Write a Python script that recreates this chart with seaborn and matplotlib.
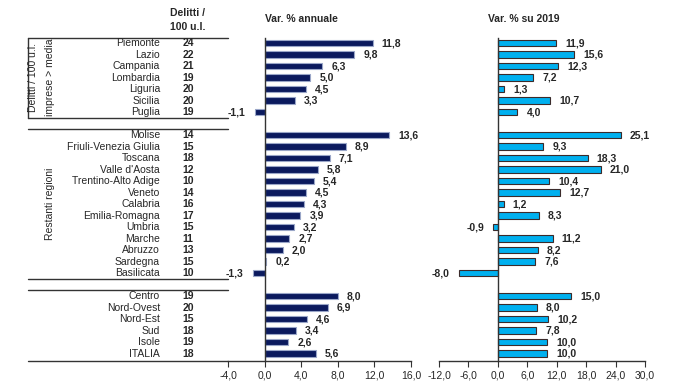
import numpy as np
import pandas as pd
import matplotlib
matplotlib.use("Agg")
import matplotlib.pyplot as plt
import matplotlib.transforms as mtransforms
from matplotlib import font_manager
import seaborn as sns

regions = ["Piemonte", "Lazio", "Campania", "Lombardia", "Liguria", "Sicilia", "Puglia",
           "Molise", "Friuli-Venezia Giulia", "Toscana", "Valle d'Aosta", "Trentino-Alto Adige",
           "Veneto", "Calabria", "Emilia-Romagna", "Umbria", "Marche", "Abruzzo", "Sardegna",
           "Basilicata",
           "Centro", "Nord-Ovest", "Nord-Est", "Sud", "Isole", "ITALIA"]
group = [0] * 7 + [1] * 13 + [2] * 6
delitti = [24, 22, 21, 19, 20, 20, 19,
           14, 15, 18, 12, 10, 14, 16, 17, 15, 11, 13, 15, 10,
           19, 20, 15, 18, 19, 18]
var_annuale = [11.8, 9.8, 6.3, 5.0, 4.5, 3.3, -1.1,
               13.6, 8.9, 7.1, 5.8, 5.4, 4.5, 4.3, 3.9, 3.2, 2.7, 2.0, 0.2, -1.3,
               8.0, 6.9, 4.6, 3.4, 2.6, 5.6]
var_2019 = [11.9, 15.6, 12.3, 7.2, 1.3, 10.7, 4.0,
            25.1, 9.3, 18.3, 21.0, 10.4, 12.7, 1.2, 8.3, -0.9, 11.2, 8.2, 7.6, -8.0,
            15.0, 8.0, 10.2, 7.8, 10.0, 10.0]

df = pd.DataFrame({"regione": regions, "gruppo": group, "delitti": delitti,
                   "annuale": var_annuale, "su2019": var_2019})
# one empty slot between groups
df["pos"] = np.arange(len(df)) + df["gruppo"]

sns.set_style("white")
names = {f.name for f in font_manager.fontManager.ttflist}
fam = "Liberation Sans Narrow" if "Liberation Sans Narrow" in names else "Liberation Sans"
plt.rcParams["font.family"] = [fam, "DejaVu Sans"]
narrow = fam == "Liberation Sans Narrow"
fs = 8.5 if narrow else 7.5

def fmt(v):
    return f"{v:.1f}".replace(".", ",")

fig = plt.figure(figsize=(7, 3.87), dpi=100)
W, H = 700, 387
top_px, bot_px = 38, 361
y0 = (H - bot_px) / H
hh = (bot_px - top_px) / H
ylim = (27.65, -0.435)

ax1 = fig.add_axes([228 / W, y0, 183 / W, hh])
ax2 = fig.add_axes([439 / W, y0, 206 / W, hh])

panels = [(ax1, "annuale", "#0b1a5e", "#9aa6c8", (-4, 16), np.arange(-4, 17, 4), "Var. % annuale", 265),
          (ax2, "su2019", "#00b0ef", "#3b2b2b", (-12, 30), np.arange(-12, 31, 6), "Var. % su 2019", 488)]

for ax, col, color, edge, xl, ticks, title, tx in panels:
    sns.barplot(data=df, x=col, y="pos", orient="h", native_scale=True, ax=ax,
                color=color, edgecolor=edge, linewidth=0.8, width=0.6, saturation=1)
    ax.set_xlim(*xl)
    ax.set_ylim(*ylim)
    ax.set_xticks(ticks)
    ax.set_xticklabels([fmt(t) for t in ticks], fontsize=fs)
    ax.set_yticks([])
    ax.set_xlabel("")
    ax.set_ylabel("")
    for s in ["top", "right"]:
        ax.spines[s].set_visible(False)
    ax.spines["left"].set_position(("data", 0))
    ax.spines["left"].set_color("#333333")
    ax.spines["bottom"].set_color("#333333")
    ax.spines["left"].set_linewidth(1.0)
    ax.spines["bottom"].set_linewidth(1.0)
    ax.tick_params(axis="x", bottom=True, direction="out", length=4, width=0.8,
                   color="#333333", pad=3)
    for p, v in zip(df["pos"], df[col]):
        if v >= 0:
            ax.annotate(fmt(v), (v, p), xytext=(6.5, 0), textcoords="offset points",
                        ha="left", va="center", fontsize=fs, fontweight="bold")
        else:
            ax.annotate(fmt(v), (v, p), xytext=(-6.5, 0), textcoords="offset points",
                        ha="right", va="center", fontsize=fs, fontweight="bold")
    fig.text(tx / W, 1 - 19 / H, title, ha="left", va="center", fontsize=fs,
             fontweight="bold")

# table on the left
tr = mtransforms.blended_transform_factory(fig.transFigure, ax1.transData)
for p, r, d in zip(df["pos"], df["regione"], df["delitti"]):
    ax1.text(160 / W, p, r, transform=tr, ha="right", va="center", fontsize=fs,
             clip_on=False)
    ax1.text(188 / W, p, str(d), transform=tr, ha="center", va="center", fontsize=fs,
             fontweight="bold", clip_on=False)
fig.text(188 / W, 1 - 20 / H, "Delitti /\n100 u.l.", ha="center", va="center",
         fontsize=fs, fontweight="bold", linespacing=1.6)

for yy in [ylim[1], 6.5, 7.5, 20.5, 21.5, ylim[0]]:
    ax1.plot([28 / W, 228 / W], [yy, yy], transform=tr, color="#333333", lw=1.0,
             clip_on=False)
ax1.plot([28 / W, 28 / W], [ylim[1], 6.5], transform=tr, color="#333333", lw=1.0,
         clip_on=False)

ax1.text(33 / W, 3, "Delitti / 100 u.l.", transform=tr, rotation=90, ha="center",
         va="center", fontsize=fs, clip_on=False)
ax1.text(50 / W, 3, "imprese > media", transform=tr, rotation=90, ha="center",
         va="center", fontsize=fs, clip_on=False)
ax1.text(50 / W, 14, "Restanti regioni", transform=tr, rotation=90, ha="center",
         va="center", fontsize=fs, clip_on=False)

fig.savefig("out.png", dpi=100)
